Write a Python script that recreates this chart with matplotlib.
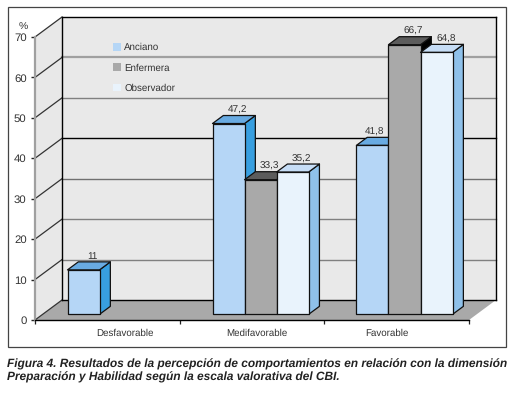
import numpy as np
import matplotlib
matplotlib.use('Agg')
import matplotlib.pyplot as plt
from matplotlib.patches import Polygon, Rectangle, Patch

categories = ['Desfavorable', 'Medifavorable', 'Favorable']
series_names = ['Anciano', 'Enfermera', 'Observador']
anciano = [11, 47.2, 41.8]
enfermera = [None, 33.3, 66.7]
observador = [None, 35.2, 64.8]
value_labels = {'Anciano': ['11', '47,2', '41,8'],
                'Enfermera': [None, '33,3', '66,7'],
                'Observador': [None, '35,2', '64,8']}
y_ticks = [0, 10, 20, 30, 40, 50, 60, 70]
caption = ('Figura 4. Resultados de la percepción de comportamientos en relación con la dimensión\n'
           'Preparación y Habilidad según la escala valorativa del CBI.')

# front, side, top colours for each series
colors = {'Anciano': ('#b5d6f6', '#389fe0', '#69abe2'),
          'Enfermera': ('#a9a9a9', '#000000', '#5c5c5c'),
          'Observador': ('#e9f3fc', '#8fc1ea', '#c6ddf6')}
grid_styles = {10: ('#808080', 1.0), 20: ('#808080', 1.0), 30: ('#707070', 1.0),
               40: ('#000000', 1.0), 50: ('#808080', 1.0), 60: ('#a0a0a0', 1.6),
               70: ('#000000', 1.0)}

plt.rcParams['font.family'] = ['Liberation Sans', 'DejaVu Sans']
plt.rcParams['text.hinting'] = 'none'
W, H = 514, 393
fig = plt.figure(figsize=(W / 100, H / 100), dpi=100, facecolor='white')
ax = fig.add_axes([35 / W, 1 - 320 / H, 434 / W, 283 / H])
ax.set_xlim(0, 3)
ax.set_ylim(0, 70)
ax.patch.set_visible(False)

# depth of the fake 3d box, in data units
wall_dx, wall_dy = 27 / 144.67, 20 / 4.043
bar_dx, bar_dy = 10.8 / 144.67, 8 / 4.043
bar_w = 0.2215
bar_base = 1.4
group_start = [0.2247, 1.227, 2.222]

# walls and floor
ax.add_patch(Polygon([(0, 0), (0, 70), (wall_dx, 70 + wall_dy), (wall_dx, wall_dy)],
                     fc='#e8e8e8', ec='none', clip_on=False, zorder=1))
ax.add_patch(Rectangle((wall_dx, wall_dy), 3, 70, fc='#e9e9e9', ec='none', clip_on=False, zorder=1))
ax.add_patch(Polygon([(0, 0), (3, 0), (3 + wall_dx, wall_dy), (wall_dx, wall_dy)],
                     fc='#a9a9a9', ec='none', clip_on=False, zorder=1.5))

for v in y_ticks[1:]:
    c, lw = grid_styles[v]
    ax.plot([wall_dx, 3 + wall_dx], [v + wall_dy, v + wall_dy], color=c, lw=lw, clip_on=False, zorder=2)
    ax.plot([0, wall_dx], [v, v + wall_dy], color='#333333', lw=0.9, clip_on=False, zorder=2)
ax.plot([0, wall_dx], [0, wall_dy], color='#333333', lw=0.9, clip_on=False, zorder=2)
ax.plot([wall_dx, wall_dx], [wall_dy, 70 + wall_dy], color='#000000', lw=1.0, clip_on=False, zorder=2)
ax.plot([3 + wall_dx, 3 + wall_dx], [wall_dy, 70 + wall_dy], color='#000000', lw=1.0, clip_on=False, zorder=2)
ax.plot([wall_dx, 3 + wall_dx], [wall_dy, wall_dy], color='#000000', lw=1.0, clip_on=False, zorder=2)


def draw_bar(x, value, name, label, z, label_dx):
    front, side, top = colors[name]
    y0 = bar_base
    y1 = value + bar_base
    edge = dict(ec='#111111', lw=0.9, clip_on=False, zorder=z, joinstyle='round')
    ax.add_patch(Polygon([(x + bar_w, y0), (x + bar_w + bar_dx, y0 + bar_dy),
                          (x + bar_w + bar_dx, y1 + bar_dy), (x + bar_w, y1)], fc=side, **edge))
    ax.add_patch(Polygon([(x, y1), (x + bar_dx, y1 + bar_dy),
                          (x + bar_w + bar_dx, y1 + bar_dy), (x + bar_w, y1)], fc=top, **edge))
    ax.add_patch(Rectangle((x, y0), bar_w, value, fc=front, **edge))
    ax.text(x + bar_w / 2 + label_dx, y1 + bar_dy + 0.15, label, ha='center', va='bottom',
            fontsize=7.2, color='#333333', clip_on=False, zorder=20)


z = 3
for g in range(len(categories)):
    for s, (name, vals) in enumerate(zip(series_names, [anciano, enfermera, observador])):
        if vals[g] is None:
            continue
        label = value_labels[name][g]
        # the 41,8 label sits to the left so it clears the taller bar next to it
        label_dx = bar_dx * 0.15 if label == '41,8' else bar_dx * 0.85
        draw_bar(group_start[g] + s * bar_w, vals[g], name, label, z, label_dx)
        z += 1

# axes
for side in ['top', 'right']:
    ax.spines[side].set_visible(False)
ax.spines['left'].set_color('#a0a0a0')
ax.spines['left'].set_linewidth(1.6)
ax.spines['bottom'].set_color('#000000')
ax.spines['bottom'].set_linewidth(1.0)
ax.spines['left'].set_zorder(2.5)
ax.spines['bottom'].set_zorder(2.5)
ax.set_yticks(y_ticks)
ax.set_yticklabels([str(v) for v in y_ticks], fontsize=8.2, color='#333333')
ax.tick_params(axis='y', length=3, width=1, color='#222222', pad=3)
ax.set_xticks([0, 1, 2, 3])
ax.set_xticklabels([])
ax.tick_params(axis='x', which='major', length=3, width=0.9, color='#222222')
ax.set_xticks([0.62, 1.53, 2.43], minor=True)
ax.set_xticklabels(categories, minor=True, fontsize=7.0, color='#333333')
ax.tick_params(axis='x', which='minor', length=0, pad=6)
ax.text(-12 / 144.67, 71.3, '%', ha='center', va='bottom', fontsize=7.5, color='#333333', clip_on=False)

handles = [Patch(fc=colors[n][0], ec='none', label=n) for n in series_names]
leg = ax.legend(handles=handles, loc='upper left', bbox_to_anchor=(78 / 434, 1 - 6 / 283),
                frameon=False, fontsize=7.0, labelcolor='#333333', labelspacing=1.13,
                handlelength=0.85, handleheight=0.85, handletextpad=0.3,
                borderpad=0, borderaxespad=0)
leg.set_zorder(2.8)

# outer frame and caption
fig.add_artist(Rectangle((7.5 / W, 1 - 347 / H), 498 / W, 340 / H, transform=fig.transFigure,
                         fc='none', ec='#444444', lw=0.9))
fig.text(7 / W, 1 - 381 / H, caption, fontsize=8.6, style='italic', weight='bold',
         color='#222222', ha='left', va='baseline', linespacing=1.2)

fig.savefig('out.png', dpi=100)
plt.close(fig)
